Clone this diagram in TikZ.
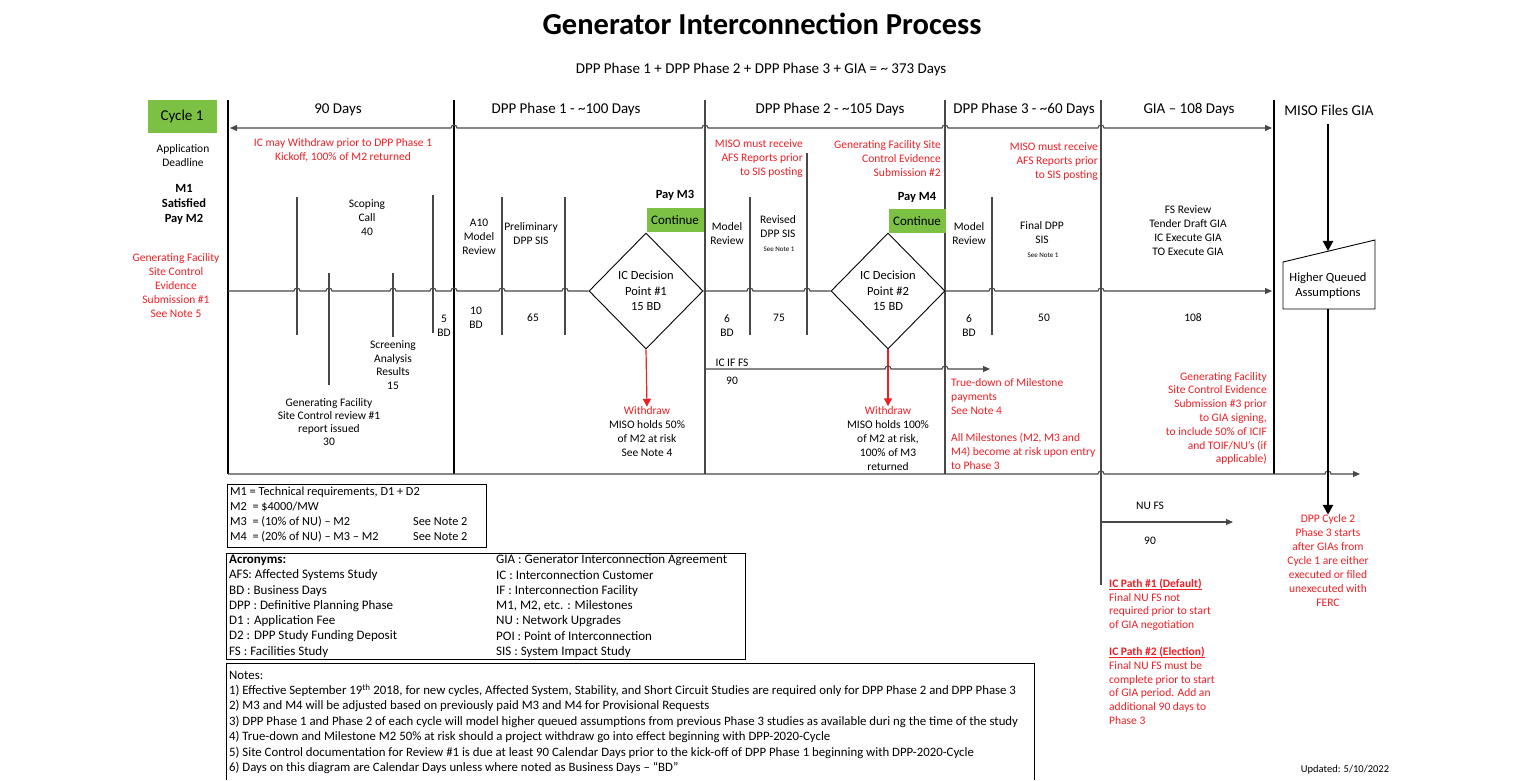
\documentclass[tikz,border=0pt]{standalone}
\usepackage{fontspec}
\setmainfont{Carlito}
\usetikzlibrary{arrows.meta,shapes.geometric,positioning}
\definecolor{misored}{RGB}{236,32,38}
\definecolor{misogreen}{RGB}{124,193,67}
\definecolor{misogray}{RGB}{72,72,72}
\begin{document}
\begin{tikzpicture}[x={(1pt,0)},y={(0,-1pt)},
  >={Triangle[length=7pt,width=6pt]},
  txt/.style={font=\fontsize{11.5}{14}\selectfont,align=center,inner sep=0pt},
  rtxt/.style={txt,text=misored},
  hdr/.style={font=\fontsize{15}{17}\selectfont,inner sep=0pt},
  small/.style={font=\fontsize{7}{8}\selectfont,inner sep=0pt},
  boxtxt/.style={font=\fontsize{13}{15}\selectfont,inner sep=0pt,anchor=west},
  bar/.style={line width=2.6pt},
  vline/.style={draw=misogray,line width=1.1pt},
  hline/.style={draw=misogray,line width=1.1pt},
  gobox/.style={fill=misogreen,inner sep=0pt,minimum width=57pt,minimum height=24pt,font=\fontsize{13}{15}\selectfont},
  paybox/.style={font=\fontsize{12.5}{14}\selectfont\bfseries,inner sep=0pt},
  decision/.style={diamond,draw=black,line width=0.9pt,fill=white,minimum width=114pt,minimum height=116pt,txt,font=\fontsize{12.5}{15.5}\selectfont},
  redarr/.style={draw=misored,line width=1.2pt,-{Triangle[length=8pt,width=8pt]}},
  bigarr/.style={line width=2.6pt,-{Triangle[length=10pt,width=10pt]}}]
\path[fill=white] (0,0) rectangle (1536,779);
\node[font=\fontsize{30.5}{34}\selectfont\bfseries,inner sep=0pt] (title) at (762,24) {Generator Interconnection Process};
\node[font=\fontsize{15}{17}\selectfont,inner sep=0pt] (sum) at (761,70) {DPP Phase 1 + DPP Phase 2 + DPP Phase 3 + GIA = \textasciitilde{} 373 Days};
\foreach \n/\x/\t in {0/338/90 Days,1/566/DPP Phase 1 - \textasciitilde100 Days,2/830/DPP Phase 2 - \textasciitilde105 Days,
  3/1024/DPP Phase 3 - \textasciitilde60 Days,4/1189/GIA – 108 Days,5/1329/MISO Files GIA}
  {\node[hdr] (H-\n) at (\x,110) {\t};}
% phase borders and ticks
\foreach \x in {228,454,1274} {\draw[bar] (\x,100) -- (\x,474);}
\foreach \x/\e in {705/474,945/474,1101/585} {\draw[vline] (\x,100) -- (\x,\e);}
\foreach \x/\s/\e in {297/197/335,329/273/385,393/273/337,433/195/333,502/197/335,565/197/335,
  750/197/335,807/153/335,992/197/335} {\draw[vline] (\x,\s) -- (\x,\e);}
% left column
\node[fill=misogreen,minimum width=69pt,minimum height=33pt,inner sep=0pt,font=\fontsize{15}{18}\selectfont] (cycle) at (182,117) {Cycle 1};
\node[txt] (appl) at (183,156) {Application\\Deadline};
\node[txt,font=\fontsize{12.5}{15}\selectfont\bfseries] (paym2) at (184,204) {M1\\Satisfied\\Pay M2};
\node[rtxt] (gf1) at (176,286) {Generating Facility\\Site Control\\Evidence\\Submission \#1\\See Note 5};
% 90 days
\node[rtxt] (wd0) at (343,150) {IC may Withdraw prior to DPP Phase 1\\Kickoff, 100\% of M2 returned};
\node[txt] (scope) at (367,218) {Scoping\\Call\\40};
\node[txt] (bd5) at (444,326) {5\\BD};
\node[txt,font=\fontsize{11.5}{13.5}\selectfont] (screen) at (393,365) {Screening\\Analysis\\Results\\15};
\node[txt,font=\fontsize{11.5}{13.3}\selectfont] (review1) at (329,422) {Generating Facility\\Site Control review \#1\\report issued\\30};
% phase 1
\node[txt] (a10) at (479,237) {A10\\Model\\Review};
\node[txt] (prelim) at (531,234) {Preliminary\\DPP SIS};
\node[txt] (bd10) at (476,318) {10\\BD};
\node[txt] (d65) at (533,318) {65};
\node[paybox] (pay3) at (675,195) {Pay M3};
\node[gobox] (go1) at (675,220) {Continue};
\node[decision] (dp1) at (646,291) {IC Decision\\Point \#1\\15 BD};
\node[txt] (wd1) at (647,432) {\textcolor{misored}{Withdraw}\\MISO holds 50\%\\of M2 at risk\\See Note 4};
% phase 2
\node[rtxt,align=right,anchor=east] (afs2) at (803,159) {MISO must receive\\AFS Reports prior\\to SIS posting};
\node[rtxt,align=right,anchor=east] (gf2) at (941,159) {Generating Facility Site\\Control Evidence\\Submission \#2};
\node[txt] (mr2) at (727,234) {Model\\Review};
\node[txt] (rev) at (778,227) {Revised\\DPP SIS};
\node[small] (rev-n) at (779,249) {See Note 1};
\node[txt] (bd6a) at (727,326) {6\\BD};
\node[txt] (d75) at (779,318) {75};
\node[paybox] (pay4) at (917,197) {Pay M4};
\node[gobox] (go2) at (917,221) {Continue};
\node[decision] (dp2) at (888,291) {IC Decision\\Point \#2\\15 BD};
\node[txt] (wd2) at (888,438.5) {\textcolor{misored}{Withdraw}\\MISO holds 100\%\\of M2 at risk,\\100\% of M3\\returned};
\node[txt] (icif) at (732,363) {IC IF FS};
\node[txt] (d90a) at (732,381) {90};
% phase 3
\node[rtxt,align=right,anchor=east] (afs3) at (1098,162) {MISO must receive\\AFS Reports prior\\to SIS posting};
\node[txt] (mr3) at (969,234) {Model\\Review};
\node[txt] (final) at (1042,233) {Final DPP\\SIS};
\node[small] (final-n) at (1043,255) {See Note 1};
\node[txt] (bd6b) at (969,326) {6\\BD};
\node[txt] (d50) at (1044,318) {50};
\node[rtxt,align=left,anchor=west] (trued) at (951,424.5) {True-down of Milestone\\payments\\See Note 4\\[13pt]All Milestones (M2, M3 and\\M4) become at risk upon entry\\to Phase 3};
% GIA
\node[txt] (fsrev) at (1188,231) {FS Review\\Tender Draft GIA\\IC Execute GIA\\TO Execute GIA};
\node[txt] (d108) at (1193,318) {108};
\node[rtxt,align=right,anchor=east,font=\fontsize{11.5}{13.8}\selectfont] (gf3) at (1267,418.5) {Generating Facility\\Site Control Evidence\\Submission \#3 prior\\to GIA signing,\\to include 50\% of ICIF\\and TOIF/NU’s (if\\applicable)};
% MISO files GIA
\draw[line width=0.9pt,fill=white] (1283,262) coordinate (Q-0) -- (1375,240) -- (1375,309) -- (1283,309) -- cycle;
\coordinate (Q-top) at (1328,251);
\coordinate (Q-bot) at (1328,309);
\coordinate (F-0) at (1328,124);
\node[txt,font=\fontsize{12.5}{15}\selectfont] (hq) at (1328,285.5) {Higher Queued\\Assumptions};
\node[rtxt] (cyc2) at (1328,561) {DPP Cycle 2\\Phase 3 starts\\after GIAs from\\Cycle 1 are either\\executed or filed\\unexecuted with\\FERC};
% NU FS and IC paths
\node[txt] (nufs) at (1150,506) {NU FS};
\node[txt] (d90b) at (1150,541) {90};
\node[rtxt,align=left,anchor=west,font=\fontsize{11.5}{13.8}\selectfont] (paths) at (1109,656) {\textbf{\underline{\smash{IC Path \#1 (Default)}}}\\Final NU FS not\\required prior to start\\of GIA negotiation\\[13pt]\textbf{\underline{\smash{IC Path \#2 (Election)}}}\\Final NU FS must be\\complete prior to start\\of GIA period. Add an\\additional 90 days to\\Phase 3};
\node[font=\fontsize{10.5}{12}\selectfont,inner sep=0pt] (upd) at (1345,770) {Updated: 5/10/2022};
% time lines
\coordinate (T-0) at (230,128); \coordinate (T-1) at (1272,128);
\coordinate (M-0) at (228,291); \coordinate (M-1) at (1272,291);
\coordinate (I-0) at (705,369); \coordinate (I-1) at (990,369);
\coordinate (B-0) at (228,474); \coordinate (B-1) at (1360,474);
\coordinate (N-0) at (1101,522); \coordinate (N-1) at (1233,522);
\draw[hline,<->] (T-0) \foreach \h in {454,705,945,1101} {-- (\h-3,128) arc[start angle=180,end angle=0,radius=3pt]} -- (T-1);
\draw[hline] (M-0) \foreach \h in {297,329,393,433,454,502,565} {-- (\h-3,291) arc[start angle=180,end angle=0,radius=3pt]} -- (dp1.west);
\draw[hline] (dp1.east) \foreach \h in {750,807} {-- (\h-3,291) arc[start angle=180,end angle=0,radius=3pt]} -- (dp2.west);
\draw[hline,->] (dp2.east) \foreach \h in {992,1101} {-- (\h-3,291) arc[start angle=180,end angle=0,radius=3pt]} -- (M-1);
\draw[redarr] (dp1.south) -- (wd1.north);
\draw[redarr] (dp2.south) -- (wd2.north);
\draw[hline,->] (I-0) \foreach \h in {888,945} {-- (\h-3,369) arc[start angle=180,end angle=0,radius=3pt]} -- (I-1);
\draw[hline,->] (B-0) \foreach \h in {1101,1328} {-- (\h-3,474) arc[start angle=180,end angle=0,radius=3pt]} -- (B-1);
\draw[hline,->] (N-0) -- (N-1);
\draw[bigarr] (F-0) -- (Q-top);
\draw[bigarr] (Q-bot) -- (cyc2.north);
% boxes
\draw[line width=1pt] (227,484) rectangle (486,547);
\node[boxtxt,font=\fontsize{12.3}{15}\selectfont] (m1) at (230,492) {M1 = Technical requirements, D1 + D2};
\node[boxtxt,font=\fontsize{12.3}{15}\selectfont] (m2) at (230,507) {M2\ \ = \$4000/MW};
\node[boxtxt,font=\fontsize{12.3}{15}\selectfont] (m3) at (230,522) {M3\ \ = (10\% of NU) – M2};
\node[boxtxt,font=\fontsize{12.3}{15}\selectfont] (m4) at (230,537) {M4\ \ = (20\% of NU) – M3 – M2};
\node[boxtxt,font=\fontsize{12.3}{15}\selectfont] (m3-n) at (413,522) {See Note 2};
\node[boxtxt,font=\fontsize{12.3}{15}\selectfont] (m4-n) at (413,537) {See Note 2};
\draw[line width=1pt] (226,553) rectangle (745,659);
\foreach \i/\a/\b in {0/{\textbf{Acronyms:}}/{GIA : Generator Interconnection Agreement},1/{AFS: Affected Systems Study}/{IC : Interconnection Customer},
  2/{BD : Business Days}/{IF : Interconnection Facility},3/{DPP : Definitive Planning Phase}/{M1, M2, etc. : Milestones},
  4/{D1 : Application Fee}/{NU : Network Upgrades},5/{D2 : DPP Study Funding Deposit}/{POI : Point of Interconnection},
  6/{FS : Facilities Study}/{SIS : System Impact Study}}
  {\node[boxtxt] (A-\i) at (229,560+15.3*\i) {\a};
   \node[boxtxt] (G-\i) at (496,560+15.3*\i) {\b};}
\draw[line width=1pt] (226,780) -- (226,663) -- (1034,663) -- (1034,780);
\foreach \i/\t in {0/{Notes:},1/{1) Effective September 19\textsuperscript{th} 2018, for new cycles, Affected System, Stability, and Short Circuit Studies are required only for DPP Phase 2 and DPP Phase 3},
  2/{2) M3 and M4 will be adjusted based on previously paid M3 and M4 for Provisional Requests},
  3/{3) DPP Phase 1 and Phase 2 of each cycle will model higher queued assumptions from previous Phase 3 studies as available duri ng the time of the study},
  4/{4) True-down and Milestone M2 50\% at risk should a project withdraw go into effect beginning with DPP-2020-Cycle},
  5/{5) Site Control documentation for Review \#1 is due at least 90 Calendar Days prior to the kick-off of DPP Phase 1 beginning with DPP-2020-Cycle},
  6/{6) Days on this diagram are Calendar Days unless where noted as Business Days – “BD”}}
  {\node[boxtxt,font=\fontsize{12.8}{14}\selectfont] (notes-\i) at (229,675+15.5*\i) {\t};}
\end{tikzpicture}
\end{document}
